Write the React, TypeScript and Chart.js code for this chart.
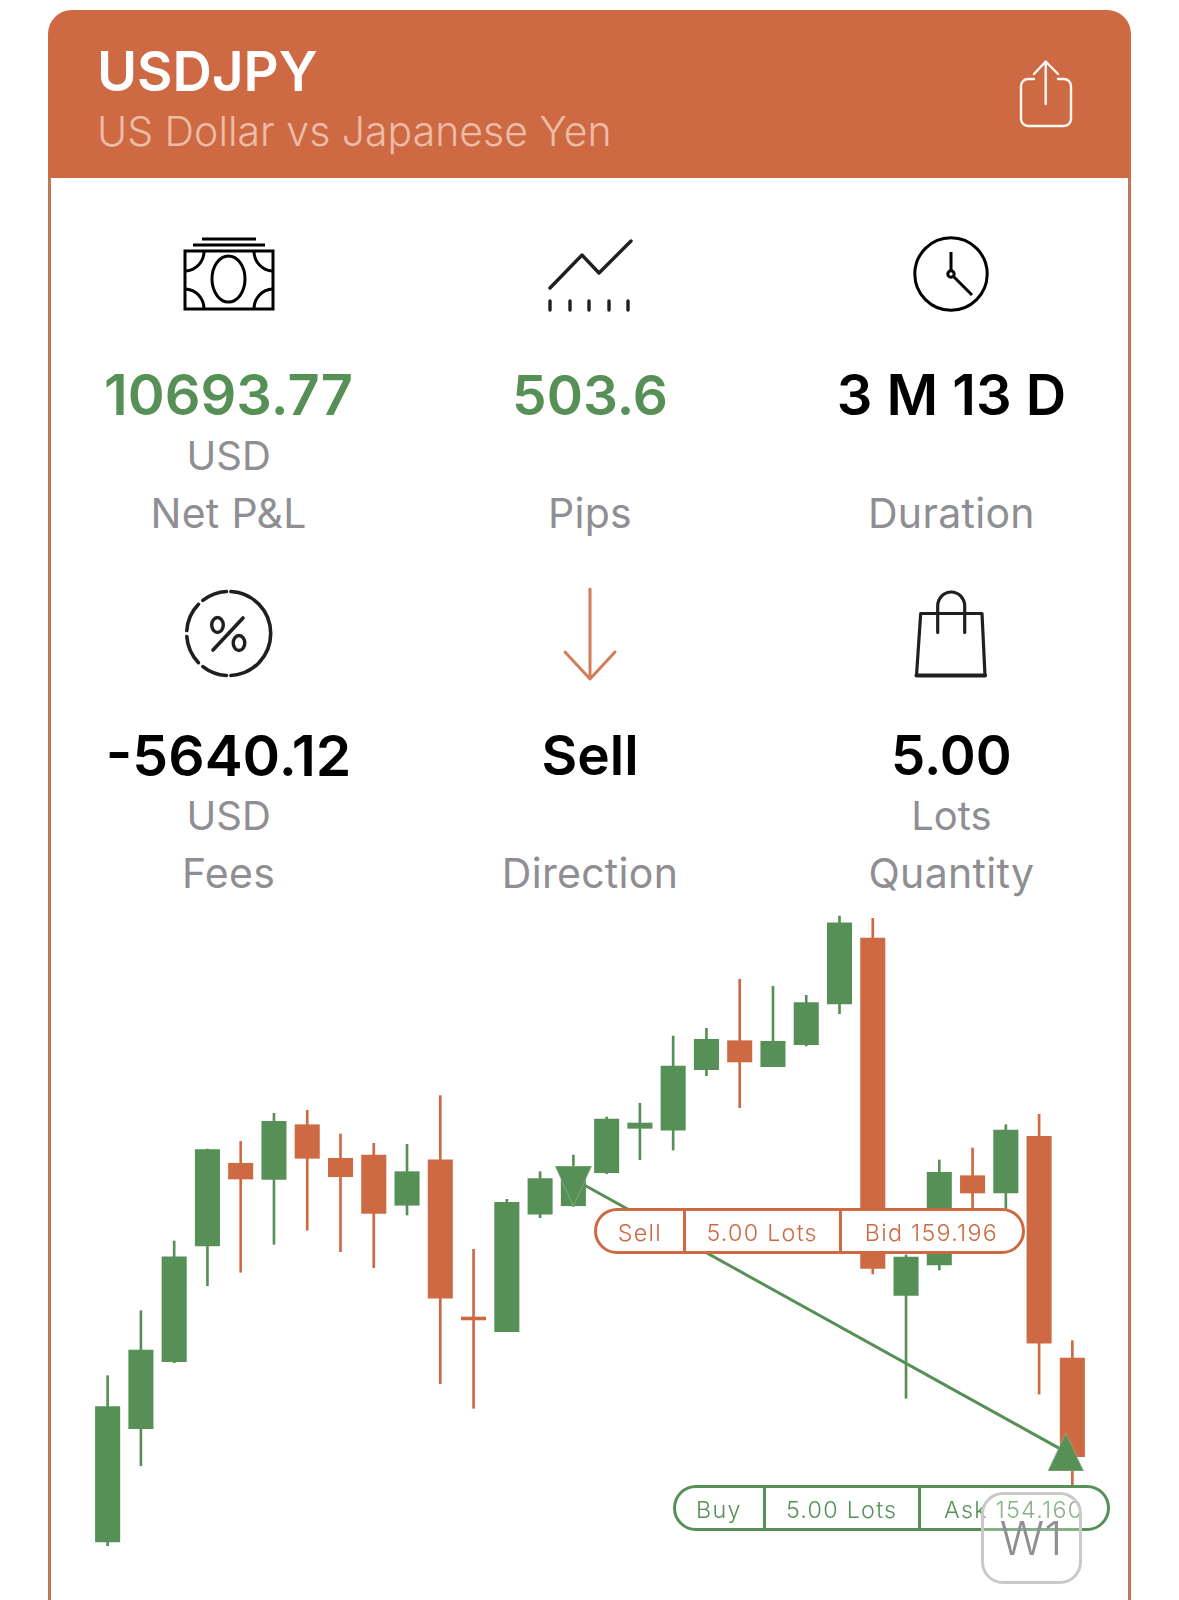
import React, { useEffect, useRef } from "react";
import { Chart, registerables } from "chart.js";

Chart.register(...registerables);

const weeks = [1,2,3,4,5,6,7,8,9,10,11,12,13,14,15,16,17,18,19,20,21,22,23,24,25,26,27,28,29,30];
const opens = [152.499,154.589,155.825,157.960,159.486,159.190,160.198,159.578,159.639,158.711,159.552,156.650,156.379,158.545,158.702,159.312,160.131,160.095,161.213,161.748,161.268,161.674,162.425,163.642,157.050,157.609,159.257,158.938,159.984,155.893];
const closes = [154.995,156.041,157.762,159.737,159.196,160.261,159.578,159.238,158.563,159.331,156.995,156.595,158.766,159.202,159.325,160.303,160.229,161.281,161.773,161.355,161.737,162.449,163.925,157.548,157.757,159.320,158.938,160.100,156.165,154.072];
const highs = [155.567,156.766,158.052,159.750,159.892,160.408,160.464,160.026,159.855,159.836,160.733,157.899,158.821,159.331,159.639,160.340,160.593,161.834,161.976,162.881,162.751,162.585,164.048,164.006,157.794,159.547,159.768,160.198,160.390,156.213];
const lows = [152.430,153.906,155.807,157.227,157.475,157.991,158.250,157.855,157.559,158.532,155.419,154.965,156.379,158.482,158.690,159.294,159.552,159.731,161.102,160.511,161.268,161.650,162.246,157.443,155.150,157.517,158.163,158.403,155.224,153.458];

const entryPrice = 159.196;
const exitPrice = 154.16;
const entryWeek = 14;
const exitWeek = 28.8;
const priceAxisMax = 164.344;
const priceAxisMin = 151.428;

const GREEN = "#579056";
const ORANGE = "#CD6A43";
const GREY = "#8E8E93";
const INK = "#000000";
const ICON = "#1f1f1f";

function marker(w: number, h: number, top: number, bottom: number, up: boolean) {
  const c = document.createElement("canvas");
  c.width = w;
  c.height = h;
  const x = c.getContext("2d")!;
  x.beginPath();
  if (up) {
    x.moveTo(w / 2, top);
    x.lineTo(w, bottom);
    x.lineTo(0, bottom);
  } else {
    x.moveTo(0, top);
    x.lineTo(w, top);
    x.lineTo(w / 2, bottom);
  }
  x.closePath();
  x.fillStyle = GREEN;
  x.fill();
  x.strokeStyle = "rgba(255,255,255,0.3)";
  x.lineWidth = 0.8;
  x.stroke();
  return c;
}

function CandleChart() {
  const ref = useRef<HTMLCanvasElement | null>(null);
  useEffect(() => {
    const colours = opens.map((o, i) => (closes[i] >= o ? GREEN : ORANGE));
    const chart = new Chart(ref.current!, {
      type: "bar",
      data: {
        datasets: [
          {
            type: "line",
            label: "Exit",
            data: [{ x: exitWeek, y: exitPrice }],
            showLine: false,
            pointStyle: marker(36, 38, 0, 38, true) as any,
            pointRadius: 19,
            order: 1,
          },
          {
            type: "line",
            label: "Entry",
            data: [{ x: entryWeek, y: entryPrice }],
            showLine: false,
            pointStyle: marker(37, 54, 14, 54, false) as any,
            pointRadius: 19,
            order: 1,
          },
          {
            type: "line",
            label: "Trade",
            data: [
              { x: entryWeek, y: entryPrice },
              { x: exitWeek, y: exitPrice },
            ],
            borderColor: GREEN,
            borderWidth: 3,
            pointRadius: 0,
            order: 2,
          },
          {
            label: "Body",
            data: weeks.map((_, i) => ({ x: i, y: [opens[i], closes[i]] })) as any,
            backgroundColor: colours,
            barThickness: 24.4,
            grouped: false,
            order: 3,
          },
          {
            label: "Range",
            data: weeks.map((_, i) => ({ x: i, y: [lows[i], highs[i]] })) as any,
            backgroundColor: colours,
            barThickness: 2,
            grouped: false,
            order: 4,
          },
        ] as any,
      },
      options: {
        animation: false,
        responsive: false,
        layout: { padding: 0, autoPadding: false },
        plugins: { legend: { display: false }, tooltip: { enabled: false } },
        scales: {
          x: { type: "linear", min: -0.5, max: 29.5, display: false, offset: false },
          y: { type: "linear", min: priceAxisMin, max: priceAxisMax, display: false },
        },
      },
    });
    return () => chart.destroy();
  }, []);
  return (
    <canvas
      ref={ref}
      width={998}
      height={700}
      style={{ position: "absolute", left: 91, top: 900, width: 998, height: 700 }}
    />
  );
}

function Txt(p: {
  x: number;
  y: number;
  size: number;
  color: string;
  weight?: number;
  align?: "left" | "center";
  spacing?: number;
  children: React.ReactNode;
}) {
  return (
    <div
      style={{
        position: "absolute",
        left: p.x,
        top: p.y,
        transform: p.align === "left" ? "translateY(-50%)" : "translate(-50%,-50%)",
        fontFamily: "Inter, sans-serif",
        fontSize: p.size,
        fontWeight: p.weight ?? 400,
        color: p.color,
        letterSpacing: p.spacing ?? 0,
        lineHeight: 1.2,
        whiteSpace: "nowrap",
      }}
    >
      {p.children}
    </div>
  );
}

function Pill(p: {
  left: number;
  right: number;
  top: number;
  bottom: number;
  d1: number;
  d2: number;
  color: string;
  parts: string[];
}) {
  const cy = (p.bottom - p.top) / 2;
  const mids = [(p.left + p.d1) / 2 - p.left + 0.5, (p.d1 + p.d2) / 2 - p.left, (p.d2 + p.right) / 2 - p.left - 1];
  return (
    <div
      style={{
        position: "absolute",
        left: p.left,
        top: p.top,
        width: p.right - p.left,
        height: p.bottom - p.top,
        boxSizing: "border-box",
        border: `3px solid ${p.color}`,
        borderRadius: 23,
        background: "#fff",
      }}
    >
      {[p.d1, p.d2].map((d) => (
        <div
          key={d}
          style={{ position: "absolute", left: d - p.left - 4, top: -2, width: 3, bottom: -2, background: p.color }}
        />
      ))}
      {p.parts.map((t, i) => (
        <Txt key={t} x={mids[i] - 2.6} y={cy - 0.8} size={23.3} weight={300} color={p.color} spacing={1.25}>
          {t}
        </Txt>
      ))}
    </div>
  );
}

function arc(cx: number, cy: number, r: number, a: number, b: number) {
  const pt = (d: number) => [cx + r * Math.cos((d * Math.PI) / 180), cy - r * Math.sin((d * Math.PI) / 180)];
  const [x1, y1] = pt(a);
  const [x2, y2] = pt(b);
  return `M${x1} ${y1}A${r} ${r} 0 ${b - a > 180 ? 1 : 0} 0 ${x2} ${y2}`;
}

function Icons() {
  return (
    <svg width={1179} height={1600} style={{ position: "absolute", left: 0, top: 0 }} fill="none">
      {/* share */}
      <g stroke="#fff" strokeWidth={2.4} strokeLinecap="round" strokeLinejoin="round" opacity={0.95}>
        <path d="M1034 79h-6a7 7 0 0 0-7 7v33a7 7 0 0 0 7 7h36a7 7 0 0 0 7-7V86a7 7 0 0 0-7-7h-6" />
        <path d="M1045.7 62v42M1034 74l11.7-12.5L1058 74" />
      </g>
      {/* banknote */}
      <g stroke="#000" strokeWidth={3}>
        <path d="M202 239h54M193 245h72" />
        <rect x={185} y={251} width={88} height={58} />
        <ellipse cx={228.5} cy={279} rx={16.5} ry={23} />
        <path d="M204 251c0 11-8 19-18 20M254 251c0 11 8 19 18 20M204 309c0-11-8-19-18-20M254 309c0-11 8-19 18-20" />
      </g>
      {/* pips */}
      <g stroke={ICON} strokeWidth={3.4} strokeLinecap="round" strokeLinejoin="round">
        <path d="M550 288L582 255L599 273L631 241" />
        <path d="M550 301v9M570 301v9M589 301v9M609 301v9M628 301v9" />
      </g>
      {/* clock */}
      <g stroke="#000" strokeWidth={3}>
        <circle cx={951} cy={274} r={36.2} />
        <path d="M951 252v18M953.5 276.5L972 295" />
        <circle cx={951} cy={274} r={3.2} fill="#fff" />
      </g>
      {/* percent */}
      <g stroke={ICON} strokeWidth={3.6} strokeLinecap="round">
        {[[93, 128], [136, 176], [184, 224], [232, 267], [273, 447]].map(([a, b]) => (
          <path key={a} d={arc(228.7, 633.5, 42, a, b)} />
        ))}
        <ellipse cx={217.5} cy={625} rx={5.8} ry={7.5} strokeWidth={3.4} />
        <ellipse cx={239} cy={643} rx={5.8} ry={7.5} strokeWidth={3.4} />
        <path d="M243 618L213 650" />
      </g>
      {/* direction */}
      <g stroke="#D17D5A" strokeWidth={3} strokeLinecap="round" strokeLinejoin="round">
        <path d="M590 589V679M565 652L590 679L615 652" />
      </g>
      {/* quantity */}
      <g stroke={ICON} strokeWidth={3.2} strokeLinecap="round" strokeLinejoin="round">
        <path d="M920.7 613.5H982L985 675.5H916.5Z" />
        <path d="M916.5 675.5H985" strokeWidth={4} />
        <path d="M937.7 632.5V606a13.5 14 0 0 1 27 0V632.5" />
      </g>
    </svg>
  );
}

const LABEL = { size: 41, spacing: 0.3, color: GREY };

export default function App() {
  return (
    <div style={{ position: "absolute", left: 0, top: 0, width: 1179, height: 1600, overflow: "hidden", background: "#fff" }}>
      <div
        style={{
          position: "absolute",
          left: 48,
          top: 150,
          width: 1083,
          height: 1500,
          boxSizing: "border-box",
          border: "3px solid #C4765A",
        }}
      />
      <div
        style={{
          position: "absolute",
          left: 48,
          top: 10,
          width: 1083,
          height: 168,
          background: ORANGE,
          borderRadius: "24px 24px 0 0",
        }}
      />
      <Txt x={97} y={72} size={54.5} color="#fff" weight={600} align="left">USDJPY</Txt>
      <Txt x={97} y={132} size={41} color="#EDBCA6" weight={300} align="left">US Dollar vs Japanese Yen</Txt>

      <Icons />

      <Txt x={228.6} y={395.5} size={56} color={GREEN} weight={600}>10693.77</Txt>
      <Txt x={228.6} y={456} size={40} color={GREY}>USD</Txt>
      <Txt x={228.6} y={513.5} {...LABEL}>Net P&amp;L</Txt>

      <Txt x={590} y={395} size={55} color={GREEN} weight={600}>503.6</Txt>
      <Txt x={590} y={513.5} {...LABEL}>Pips</Txt>

      <Txt x={951.4} y={395.5} size={56} color={INK} weight={600}>3 M 13 D</Txt>
      <Txt x={951.4} y={513.5} {...LABEL}>Duration</Txt>

      <Txt x={228.6} y={755.5} size={57} color={INK} weight={600}>-5640.12</Txt>
      <Txt x={228.6} y={816} size={40} color={GREY}>USD</Txt>
      <Txt x={228.6} y={873.5} {...LABEL}>Fees</Txt>

      <Txt x={590} y={754.5} size={55} color={INK} weight={600}>Sell</Txt>
      <Txt x={590} y={873.5} {...LABEL}>Direction</Txt>

      <Txt x={951.4} y={755.5} size={54.5} color={INK} weight={600}>5.00</Txt>
      <Txt x={951.4} y={816} size={40} color={GREY}>Lots</Txt>
      <Txt x={951.4} y={873.5} {...LABEL}>Quantity</Txt>

      <CandleChart />

      <Pill left={594} right={1024.5} top={1208} bottom={1253.5} d1={684} d2={839.5} color={ORANGE} parts={["Sell", "5.00 Lots", "Bid 159.196"]} />
      <Pill left={672.5} right={1109.5} top={1485} bottom={1530.5} d1={763.5} d2={919} color={GREEN} parts={["Buy", "5.00 Lots", "Ask 154.160"]} />

      <div
        style={{
          position: "absolute",
          left: 981,
          top: 1492,
          width: 101,
          height: 92,
          boxSizing: "border-box",
          border: "3px solid #c9c9c9",
          borderRadius: 22,
          background: "rgba(255,255,255,0.3)",
        }}
      />
      <Txt x={1031} y={1539} size={46} weight={300} color={GREY}>W1</Txt>
    </div>
  );
}
